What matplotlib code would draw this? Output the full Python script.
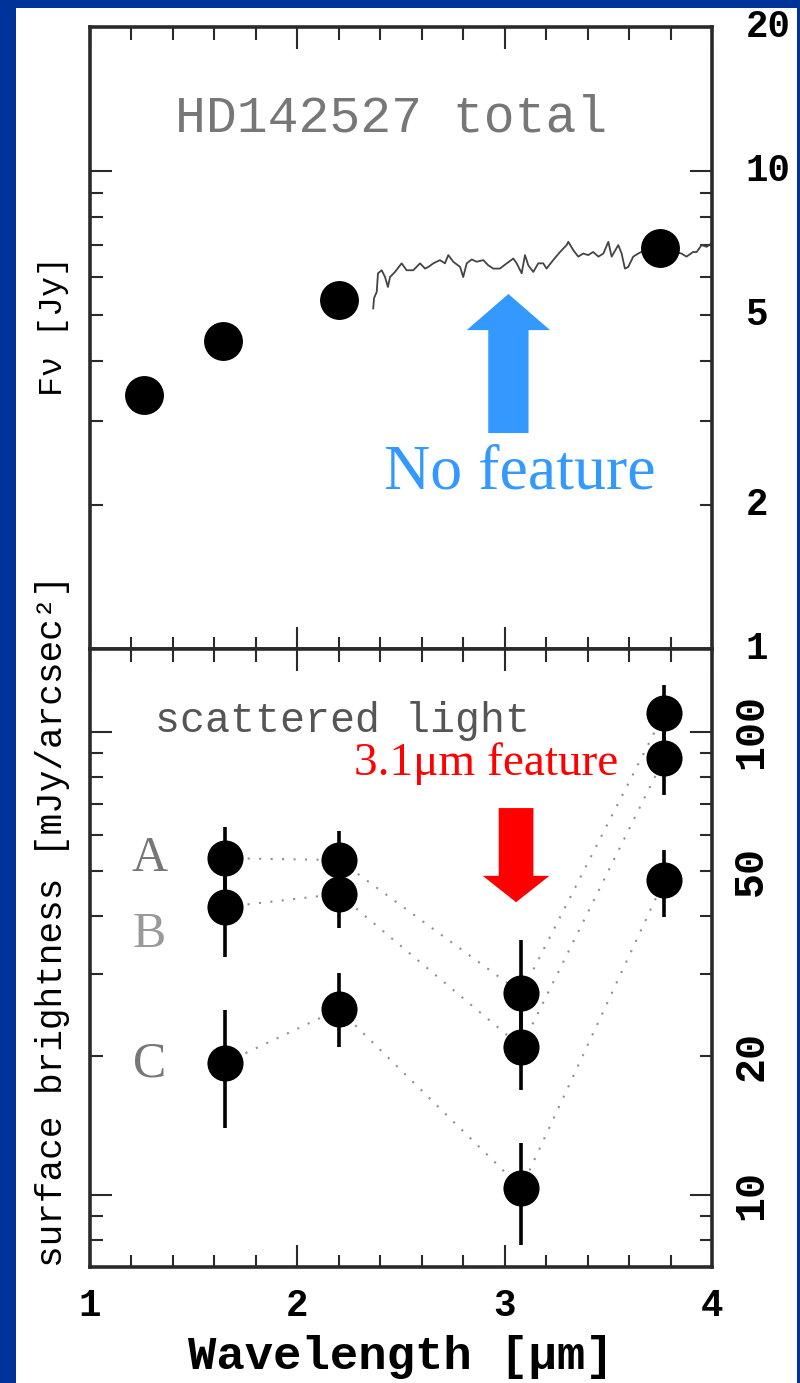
import numpy as np
import matplotlib
matplotlib.use("Agg")
import matplotlib.pyplot as plt
from matplotlib.patches import Rectangle, FancyArrowPatch
from matplotlib.ticker import FixedLocator, FuncFormatter

# ---- HD142527 total flux [Jy] ----
phot_wave = [1.26, 1.64, 2.20, 3.75]
phot_flux = [3.40, 4.41, 5.36, 6.89]

# 3-4 micron spectrum
spec_wave = [2.366, 2.370, 2.383, 2.389, 2.407, 2.423, 2.437, 2.447, 2.471, 2.503,
             2.527, 2.559, 2.592, 2.616, 2.632, 2.656, 2.688, 2.712, 2.728, 2.752,
             2.785, 2.800, 2.817, 2.841, 2.865, 2.897, 2.921, 2.945, 2.977, 3.010,
             3.042, 3.058, 3.082, 3.098, 3.114, 3.138, 3.162, 3.186, 3.202, 3.234,
             3.267, 3.299, 3.307, 3.331, 3.355, 3.379, 3.403, 3.427, 3.452, 3.476,
             3.500, 3.516, 3.548, 3.564, 3.580, 3.596, 3.620, 3.644, 3.677, 3.749,
             3.821, 3.853, 3.877, 3.909, 3.926, 3.950, 3.974, 3.998]
spec_flux = [5.16, 5.42, 5.59, 6.11, 6.20, 6.00, 5.72, 6.00, 6.15, 6.41,
             6.20, 6.20, 6.41, 6.25, 6.30, 6.41, 6.51, 6.41, 6.67, 6.46,
             6.30, 6.00, 6.41, 6.53, 6.46, 6.51, 6.35, 6.25, 6.25, 6.41,
             6.56, 6.41, 6.11, 6.67, 6.35, 6.15, 6.41, 6.41, 6.25, 6.51,
             6.77, 7.00, 7.11, 6.83, 6.62, 6.72, 6.67, 6.77, 6.62, 6.72,
             7.11, 6.62, 7.00, 6.72, 6.25, 6.30, 6.62, 6.72, 6.83, 6.86,
             6.77, 6.72, 6.62, 6.77, 6.77, 7.00, 6.94, 7.06]

# ---- scattered light surface brightness [mJy/arcsec^2] ----
sb_wave = [1.65, 2.20, 3.08, 3.77]
sb_A = [53.4, 52.9, 27.3, 109.9]
sb_A_lo = [45.8, 45.8, 21.0, 95.6]
sb_A_hi = [62.3, 61.1, 35.5, 126.3]
sb_B = [41.9, 44.7, 20.9, 87.9]
sb_B_lo = [32.7, 37.7, 16.9, 73.1]
sb_B_hi = [53.7, 53.0, 25.9, 105.7]
sb_C = [19.3, 25.2, 10.36, 47.9]
sb_C_lo = [13.96, 20.9, 7.80, 39.8]
sb_C_hi = [25.1, 30.2, 12.95, 55.6]

top_labels = [1, 2, 5, 10, 20]
bot_labels = [10, 20, 50, 100]

plt.rcParams['font.family'] = ['Liberation Mono', 'DejaVu Sans']
plt.rcParams['font.weight'] = 'bold'

SLIDE_BLUE = '#003399'
SPINE = '#2a2a2a'

fig = plt.figure(figsize=(8, 13.83), dpi=100, facecolor=SLIDE_BLUE)
fig.patches.append(Rectangle((16 / 800, 0), 781 / 800, 1375 / 1383,
                             transform=fig.transFigure, facecolor='white',
                             edgecolor='none', zorder=-5))

ax1 = fig.add_axes([0.1125, 0.5307, 0.7775, 0.4497])
ax2 = fig.add_axes([0.1125, 0.0839, 0.7775, 0.4468])


def style_axes(ax, labels, pad, rot, ysize):
    ax.set_xlim(1, 4)
    ax.set_yscale('log')
    ax.xaxis.set_major_locator(FixedLocator([1, 2, 3, 4]))
    ax.xaxis.set_minor_locator(FixedLocator(np.arange(1, 4.01, 0.2)))
    ax.yaxis.set_major_locator(FixedLocator([1, 10, 100]))
    minors = [m * d for d in (1, 10, 100) for m in range(2, 10)]
    ax.yaxis.set_minor_locator(FixedLocator(minors))
    fmt = FuncFormatter(lambda v, p: f'{v:g}' if round(v) in labels else '')
    ax.yaxis.set_major_formatter(fmt)
    ax.yaxis.set_minor_formatter(fmt)
    ax.tick_params(which='both', direction='in', top=True, bottom=True,
                   left=True, right=True, labelleft=False, labelright=True,
                   color=SPINE, width=1.5, labelsize=27)
    ax.tick_params(which='major', length=16)
    ax.tick_params(which='minor', length=9)
    ax.tick_params(axis='y', which='both', pad=pad, labelrotation=rot,
                   labelsize=ysize)
    ax.tick_params(axis='x', which='both', pad=15)
    for t in ax.yaxis.get_major_ticks() + ax.yaxis.get_minor_ticks():
        t.label2.set_verticalalignment('center')
    for s in ax.spines.values():
        s.set_linewidth(2.6)
        s.set_color(SPINE)


# ---- top panel ----
ax1.plot(spec_wave, spec_flux, color='#444444', lw=1.3, zorder=2)
ax1.plot(phot_wave, phot_flux, 'o', color='black', ms=28, mec='none', zorder=3)
ax1.set_ylim(1, 20)
style_axes(ax1, top_labels, 24, 0, 27)
ax1.tick_params(labelbottom=False)

ax1.text(0.137, 0.8537, 'HD142527 total', transform=ax1.transAxes,
         fontsize=37, color='#777777', weight='normal', va='center')
ax1.text(0.691, 0.2588, 'No feature', transform=ax1.transAxes,
         fontsize=46, color='#3399ff', family='Liberation Serif',
         weight='normal', ha='center', va='baseline')
ax1.add_patch(FancyArrowPatch((3.018, 2.83), (3.018, 5.53),
                              arrowstyle='simple,head_length=26,head_width=60,tail_width=29',
                              mutation_scale=1, color='#3399ff', lw=0,
                              shrinkA=0, shrinkB=0, zorder=4))

# ---- bottom panel ----
for vals in (sb_A, sb_B, sb_C):
    ax2.plot(sb_wave, vals, color='#909090', lw=1.5, dashes=(1, 4.5), zorder=1)
for vals, lo, hi in ((sb_A, sb_A_lo, sb_A_hi), (sb_B, sb_B_lo, sb_B_hi),
                     (sb_C, sb_C_lo, sb_C_hi)):
    err = [np.subtract(vals, lo), np.subtract(hi, vals)]
    ax2.errorbar(sb_wave, vals, yerr=err, fmt='o', color='black', ms=26,
                 mec='none', elinewidth=2.6, capsize=0, zorder=3)
ax2.set_ylim(7, 151)
style_axes(ax2, bot_labels, 14, 90, 30)

ax2.text(0.1045, 0.8657, 'scattered light', transform=ax2.transAxes,
         fontsize=30, color='#555555', weight='normal', va='baseline')
for name, ypos, col in (('A', 0.6408, '#777777'), ('B', 0.5178, '#999999'),
                        ('C', 0.309, '#777777')):
    ax2.text(0.096, ypos, name, transform=ax2.transAxes, fontsize=36,
             color=col, family='Liberation Serif', weight='normal',
             ha='center', va='baseline')
ax2.text(0.6367, 0.796, '3.1\u03bcm feature', transform=ax2.transAxes,
         fontsize=34, color='red', family='Liberation Serif',
         weight='normal', ha='center', va='baseline')
ax2.add_patch(FancyArrowPatch((3.055, 68.5), (3.055, 42.9),
                              arrowstyle='simple,head_length=19,head_width=48,tail_width=25',
                              mutation_scale=1, color='red', lw=0,
                              shrinkA=0, shrinkB=0, zorder=4))

ax2.set_xlabel('Wavelength [\u03bcm]', fontsize=34, weight='bold', labelpad=8)

# axis titles on the left
fig.text(62 / 800, 1 - 326 / 1383, 'F\u03bd [Jy]', rotation=90,
         rotation_mode='anchor', ha='center', va='baseline',
         fontsize=24, weight='normal')
fig.text(62 / 800, 1 - 921 / 1383, 'surface brightness [mJy/arcsec\u00b2]',
         rotation=90, rotation_mode='anchor', ha='center', va='baseline',
         fontsize=26, weight='normal')

fig.savefig('out.png', dpi=100, facecolor=fig.get_facecolor())
